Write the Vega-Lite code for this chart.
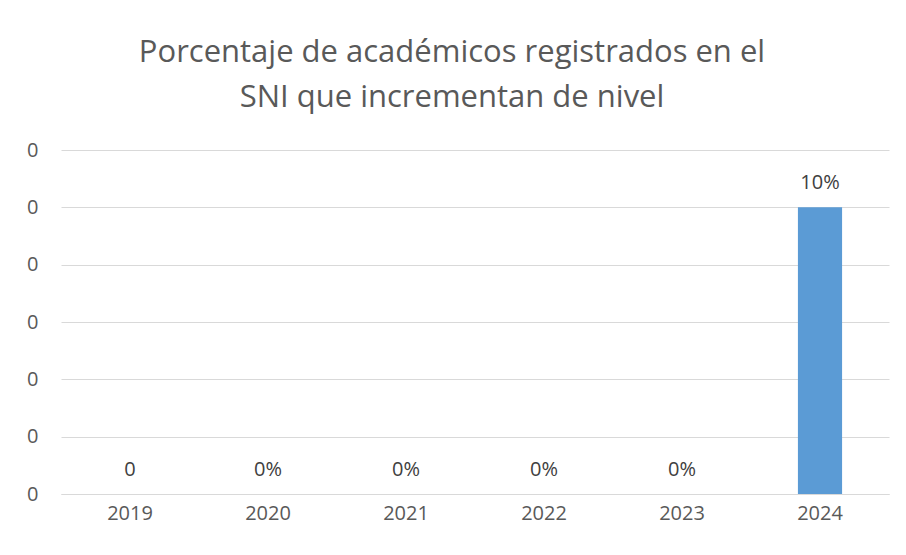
{
  "$schema": "https://vega.github.io/schema/vega-lite/v6.json",
  "width": 828,
  "height": 344,
  "autosize": {"type": "none"},
  "padding": {"left": 61, "top": 150, "right": 17, "bottom": 61},
  "background": "white",
  "config": {
    "view": {"stroke": null},
    "font": "Open Sans"
  },
  "title": {
    "text": ["Porcentaje de académicos registrados en el", "SNI que incrementan de nivel"],
    "fontSize": 31,
    "fontWeight": "normal",
    "color": "#595959",
    "lineHeight": 45,
    "anchor": "middle",
    "dx": -23,
    "offset": 26,
    "font": "Open Sans"
  },
  "data": {
    "values": [
      {"year": "2019", "value": 0, "label": "0"},
      {"year": "2020", "value": 0, "label": "0%"},
      {"year": "2021", "value": 0, "label": "0%"},
      {"year": "2022", "value": 0, "label": "0%"},
      {"year": "2023", "value": 0, "label": "0%"},
      {"year": "2024", "value": 0.1, "label": "10%"}
    ]
  },
  "encoding": {
    "x": {
      "field": "year",
      "type": "nominal",
      "scale": {"paddingInner": 0.68, "paddingOuter": 0.34},
      "axis": {
        "title": null,
        "labelAngle": 0,
        "labelFontSize": 20,
        "labelColor": "#595959",
        "labelPadding": 9,
        "ticks": false,
        "domainColor": "#d9d9d9",
        "domainWidth": 1,
        "grid": false
      }
    },
    "y": {
      "field": "value",
      "type": "quantitative",
      "scale": {"domain": [0, 0.12], "nice": false},
      "axis": {
        "title": null,
        "values": [0, 0.02, 0.04, 0.06, 0.08, 0.1, 0.12],
        "format": ".0f",
        "labelFontSize": 20,
        "labelColor": "#595959",
        "labelPadding": 23,
        "ticks": false,
        "domain": false,
        "gridColor": "#d9d9d9",
        "gridWidth": 1
      }
    }
  },
  "layer": [
    {"mark": {"type": "bar", "color": "#5b9bd5"}},
    {
      "mark": {"type": "text", "baseline": "alphabetic", "dy": -18, "fontSize": 20, "color": "#404040", "font": "Open Sans"},
      "encoding": {"text": {"field": "label"}}
    }
  ]
}
